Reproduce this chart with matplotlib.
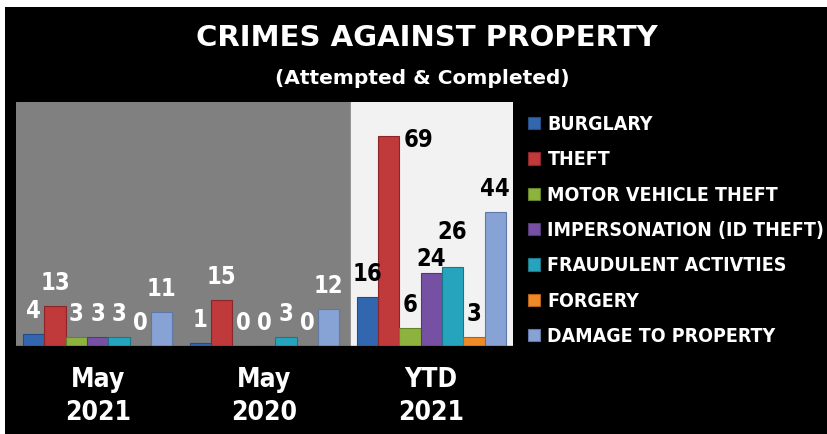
"""
Crimes against property bar chart
"""

import matplotlib.pyplot as plt
from matplotlib.patches import Rectangle
from numpy import arange

categories = ['May\n2021', 'May\n2020', 'YTD\n2021']
crime_types = ['BURGLARY', 'THEFT', 'MOTOR VEHICLE THEFT', 'IMPERSONATION (ID THEFT)',
               'FRAUDULENT ACTIVTIES', 'FORGERY', 'DAMAGE TO PROPERTY']

burglary = [4, 1, 16]
theft = [13, 15, 69]
motor_vehicle_theft = [3, 0, 6]
impersonation = [3, 0, 24]
fraudulent = [3, 3, 26]
forgery = [0, 0, 3]
damage = [11, 12, 44]

colors = ['#3267b0', '#c0393b', '#8db33e', '#7650a2', '#27a4bd', '#ef8a26', '#87a3d6']
edges = ['#234c84', '#8c2527', '#64822a', '#543877', '#1a7789', '#b0621a', '#5f79a6']

# label nudges (series, group) -> extra vertical offset in points
nudge = {(3, 2): -7, (4, 2): 8}


def main():

    series = [burglary, theft, motor_vehicle_theft, impersonation, fraudulent, forgery, damage]

    fig = plt.figure(figsize=(8.27, 4.34), dpi=100, facecolor='white')
    # black panel with a thin white margin top/left
    fig.patches.append(Rectangle((5 / 827, 0), 1, 1 - 7 / 434, transform=fig.transFigure,
                                 facecolor='black', edgecolor='none', zorder=-5))

    ax = fig.add_axes([16 / 827, 88 / 434, 497 / 827, 244 / 434])
    ax.set_facecolor('none')
    ax.set_xlim(-0.49, 2.49)
    ax.set_ylim(0, 80)

    # shaded backgrounds
    ax.axvspan(-0.49, 1.52, color='#808080', zorder=0)
    ax.axvspan(1.52, 2.49, color='#f2f2f2', zorder=0)

    x = arange(len(categories))
    width = 0.128
    bars = []
    for i, vals in enumerate(series):
        pos = x + (i - 3) * width
        b = ax.bar(pos, vals, width, color=colors[i], edgecolor=edges[i], linewidth=0.8,
                   label=crime_types[i], zorder=2)
        bars.append(b)
        for j, (px, v) in enumerate(zip(pos, vals)):
            txt_color = 'white' if j < 2 else 'black'
            if i == 1 and j == 2:
                # the tallest bar gets its label on the right
                ax.annotate(str(v), (px + width / 2, v), xytext=(3, -3), textcoords='offset points',
                            ha='left', va='center', fontsize=17, fontweight='bold',
                            stretch='condensed', color=txt_color)
            else:
                dy = 8 + nudge.get((i, j), 0)
                ax.annotate(str(v), (px, v), xytext=(0, dy), textcoords='offset points',
                            ha='center', va='bottom', fontsize=17, fontweight='bold',
                            stretch='condensed', color=txt_color)

    for s in ax.spines.values():
        s.set_visible(False)
    ax.axhline(0, color='#404040', linewidth=1, zorder=3)
    ax.set_yticks([])
    ax.set_xticks(x)
    ax.set_xticklabels(categories, fontsize=19, fontweight='bold', stretch='condensed',
                       color='white', linespacing=1.35)
    ax.tick_params(axis='x', length=0, pad=15)

    fig.text(0.516, 0.912, 'CRIMES AGAINST PROPERTY', ha='center', va='center',
             fontsize=21, fontweight='bold', family='DejaVu Sans', color='white')
    fig.text(0.511, 0.82, '(Attempted & Completed)', ha='center', va='center',
             fontsize=14.5, fontweight='bold', family='DejaVu Sans', color='white')

    fig.legend(handles=bars, loc='upper left', bbox_to_anchor=(528 / 827, 1 - 115 / 434),
               frameon=False, prop={'weight': 'bold', 'size': 14, 'stretch': 'condensed'},
               labelcolor='white', handlelength=0.6, handleheight=0.6, handletextpad=0.4,
               labelspacing=0.84, borderaxespad=0, borderpad=0)

    fig.savefig('out.png', dpi=100, facecolor=fig.get_facecolor())


if __name__ == '__main__':
    main()
